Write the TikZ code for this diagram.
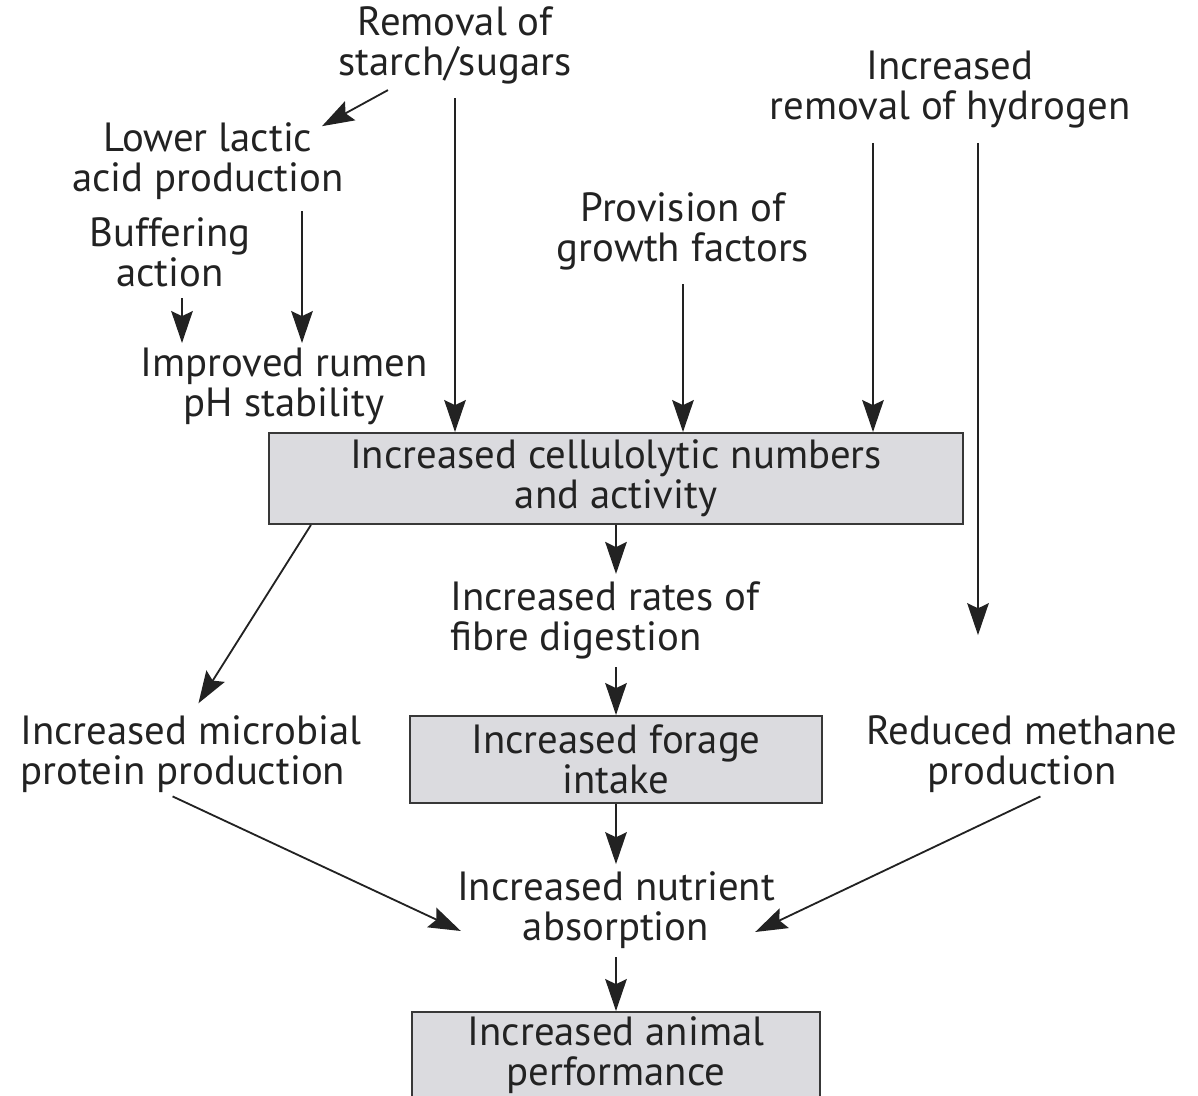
\documentclass[tikz,border=0pt]{standalone}
\usepackage{fontspec}
\setmainfont{PT Sans}
\usetikzlibrary{arrows.meta}

\definecolor{inkgray}{HTML}{222222}
\definecolor{boxfill}{HTML}{DBDBDF}

\tikzset{
	txt/.style={align=center, inner sep=0pt, text=inkgray, font=\fontsize{29}{28.5}\selectfont},
	box/.style={txt, draw=inkgray!90, fill=boxfill, line width=1.4pt},
	arr/.style={-{Stealth[length=0.8cm, width=0.54cm, inset=0.13cm]}, line width=1.3pt, inkgray}
}

\begin{document}
\begin{tikzpicture}[x=0.025cm, y=-0.025cm]
		\useasboundingbox (0,0) rectangle (1198,1096);

		% Верхний ряд
		\node[txt] (starch) at (455,45) {Removal of\\starch/sugars};
		\node[txt] (hydro) at (950,90) {Increased\\removal of hydrogen};
		\node[txt] (lactic) at (208,161) {Lower lactic\\acid production};
		\node[txt] (buffer) at (170,252) {Buffering\\action};
		\node[txt] (growth) at (683,231) {Provision of\\growth factors};
		\node[txt] (ph) at (284,386) {Improved rumen\\pH stability};

		% Блоки
		\node[box, minimum width=17.35cm, minimum height=2.275cm] (cell) at (616,478.5) {Increased cellulolytic numbers\\and activity};
		\node[box, minimum width=10.3cm, minimum height=2.175cm] (forage) at (616,759.5) {Increased forage\\intake};
		\node[box, minimum width=10.2cm, minimum height=2.175cm] (perf) at (616,1055.5) {Increased animal\\performance};

		% Средний ряд
		\node[txt, align=left, anchor=west] (fibre) at (450,620) {Increased rates of\\fibre digestion};
		\node[txt, align=left, anchor=west] (micro) at (20,754) {Increased microbial\\protein production};
		\node[txt] (meth) at (1022,754) {Reduced methane\\production};
		\node[txt] (nutr) at (616,910) {Increased nutrient\\absorption};

		% Стрелки сверху
		\draw[arr] ([shift={(-67,6)}]starch.south) -- ([shift={(114,4)}]lactic.north);
		\draw[arr, shorten <=10pt] (starch.south) -- (starch.south |- cell.north);
		\draw[arr, shorten <=8pt, shorten >=3pt] ([shift={(94,0)}]lactic.south) -- ([shift={(94,0)}]lactic.south |- ph.north);
		\draw[arr, shorten <=8pt, shorten >=3pt] ([shift={(12,0)}]buffer.south) -- ([shift={(12,0)}]buffer.south |- ph.north);
		\draw[arr, shorten <=10pt] (growth.south) -- (growth.south |- cell.north);
		\draw[arr, shorten <=10pt] ([shift={(-77,0)}]hydro.south) -- ([shift={(-77,0)}]hydro.south |- cell.north);
		\draw[arr, shorten <=10pt, shorten >=2cm] ([shift={(28,0)}]hydro.south) -- ([shift={(28,0)}]hydro.south |- meth.north);

		% Стрелки снизу
		\draw[arr, shorten >=5pt] (cell.south) -- (cell.south |- fibre.north);
		\draw[arr, shorten >=10pt] ([shift={(43,0)}]cell.south west) -- (micro.north);
		\draw[arr, shorten <=6pt] (forage.north |- fibre.south) -- (forage.north);
		\draw[arr, shorten >=5pt] (forage.south) -- (nutr.north);
		\draw[arr, shorten <=6pt] ([shift={(-26,0)}]micro.south) -- ([shift={(4,21)}]nutr.west);
		\draw[arr, shorten <=6pt] ([shift={(26,0)}]meth.south) -- ([shift={(-20,22)}]nutr.east);
		\draw[arr, shorten <=6pt] (nutr.south) -- (perf.north);
	\end{tikzpicture}
\end{document}
